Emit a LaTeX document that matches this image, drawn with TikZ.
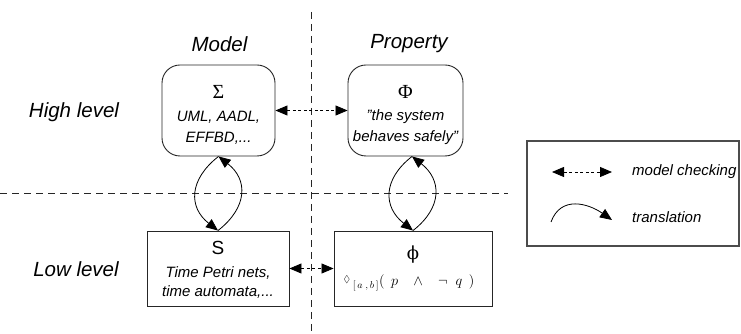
\documentclass[tikz,border=0pt]{standalone}
\usepackage{fontspec}
\setmainfont{Liberation Sans}
\newfontfamily\grk{Liberation Serif}
\newfontfamily\grkb{DejaVu Serif}
\usepackage{amssymb}
\usetikzlibrary{arrows.meta,calc}
\begin{document}
\begin{tikzpicture}[x=1pt,y=1pt,
  box/.style={draw=black!85,line width=0.9pt,inner sep=0pt},
  rbox/.style={box,rounded corners=18pt},
  txt/.style={font=\fontsize{15}{18}\selectfont\itshape,inner sep=0pt},
  head/.style={font=\fontsize{20.5}{24}\selectfont\itshape,inner sep=0pt},
  sym/.style={font=\fontsize{20}{24}\selectfont\grk,inner sep=0pt},
  guide/.style={black!85,line width=0.8pt,dash pattern=on 7pt off 5pt},
  mc/.style={black,line width=0.8pt,dash pattern=on 3pt off 2.5pt,arrows={Triangle[length=12pt,width=10pt]-Triangle[length=12pt,width=10pt]}},
  tr/.style={black,line width=0.8pt,arrows={-Triangle[length=12pt,width=10pt]}}
]
\useasboundingbox (0,0) rectangle (741,334);

% guide lines
\coordinate (vt) at (311,322);
\coordinate (vb) at (311,0);
\coordinate (hl) at (0,141);
\coordinate (hr) at (508,141);
\draw[guide] (vt) -- (vb);
\draw[guide] (hl) -- (hr);

% headings
\node[head] (hmodel) at (219.5,290) {Model};
\node[head] (hprop) at (409,290) {Property};
\node[head] (hhigh) at (74,222) {High level};
\node[head] (hlow) at (76,65) {Low level};

% boxes
\node[rbox,fill=white,minimum width=113pt,minimum height=91pt] (M) at (218.5,223.5) {};
\node[rbox,fill=white,minimum width=115pt,minimum height=91pt] (P) at (405.5,223.5) {};
\node[box,fill=white,minimum width=142pt,minimum height=75pt] (S) at (218,65.5) {};
\node[box,fill=white,minimum width=158pt,minimum height=75pt] (F) at (413,65.5) {};

% box contents
\node[sym] (msym) at (218.5,242) {Σ};
\node[txt] (m1) at (218.5,217) {UML, AADL,};
\node[txt] (m2) at (218.5,196) {EFFBD,...};
\node[sym] (psym) at (405.5,242) {Φ};
\node[txt] (p1) at (405.5,217) {"the system};
\node[txt] (p2) at (405.5,196) {behaves safely"};
\node[font=\fontsize{19}{22}\selectfont,inner sep=0pt] (ssym) at (218,86) {S};
\node[font=\fontsize{18}{22}\selectfont\grkb,inner sep=0pt] (fsym) at (413,79) {ϕ};
\node[txt] (s1) at (218,61) {Time Petri nets,};
\node[txt] (s2) at (218,42) {time automata,...};
\node[font=\fontsize{14}{17}\selectfont,inner sep=0pt] (f1) at (409,51)
  {$\raisebox{3pt}{$\scriptstyle\lozenge$}_{\;\mathbf{[}\,a\;,\,b\,\mathbf{]}}(\;\,p\;\;\;\wedge\;\;\;\neg\;\;q\;\,)$};

% model checking arrows
\draw[mc] (M.east) -- (P.west);
\draw[mc] (S.east) -- (F.west);

% translation loops
\coordinate (ptop) at ($(P.south)+(6.5,0)$);
\draw[tr] (S.north) to[out=38,in=-38,looseness=1.3] (M.south);
\draw[tr] (M.south) to[out=218,in=142,looseness=1.3] (S.north);
\draw[tr] (F.north) to[out=38,in=-38,looseness=1.3] (ptop);
\draw[tr] (ptop) to[out=218,in=142,looseness=1.3] (F.north);

% legend
\node[box,draw=black!70,line width=1.2pt,minimum width=212pt,minimum height=105pt] (L) at (633,140.5) {};
\coordinate (la) at (552,162);
\coordinate (lb) at (612,162);
\draw[mc] (la) -- (lb);
\node[txt,anchor=west] (lmc) at (632,162) {model checking};
\coordinate (ta) at (551,112);
\coordinate (tb) at (612,114);
\draw[tr] (ta) to[out=70,in=145,looseness=1.2] (tb);
\node[txt,anchor=west] (ltr) at (632,117) {translation};
\end{tikzpicture}
\end{document}
